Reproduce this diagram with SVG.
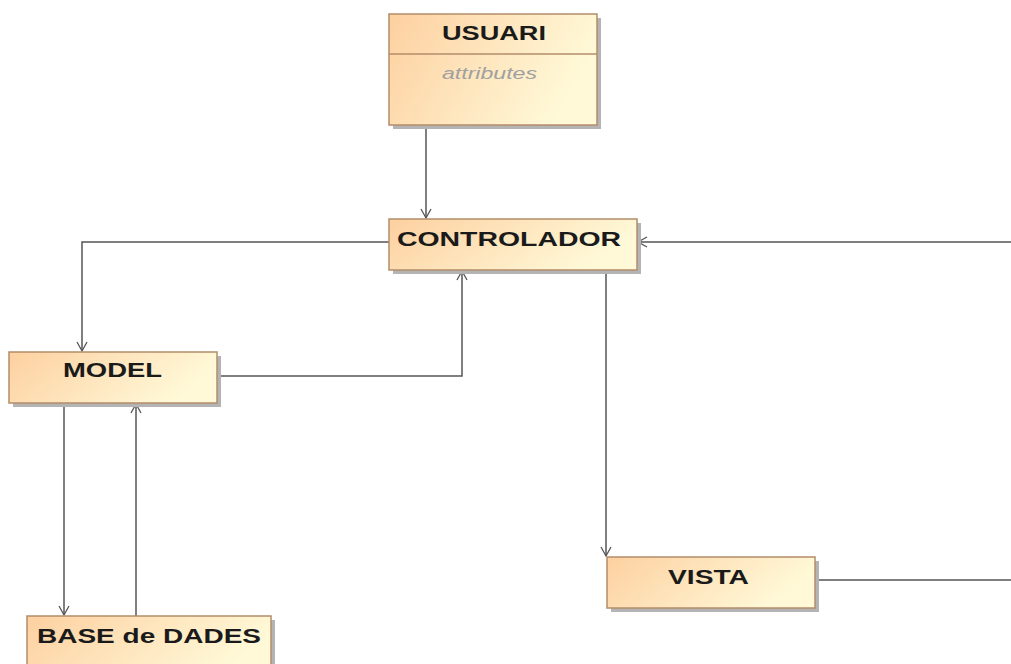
<svg xmlns="http://www.w3.org/2000/svg" width="1011" height="664" viewBox="0 0 1011 664">
  <defs>
    <linearGradient id="fillGrad" x1="0" y1="0" x2="1" y2="0.3">
      <stop offset="0" stop-color="#fdd0a0"/>
      <stop offset="1" stop-color="#fff9d8"/>
    </linearGradient>
    <marker id="openArrow" markerWidth="12" markerHeight="12" refX="10" refY="6" orient="auto" markerUnits="userSpaceOnUse">
      <path d="M1,1 L10,6 L1,11" fill="none" stroke="#555" stroke-width="1.3"/>
    </marker>
  </defs>
  <style>
    .shadow { fill: #b4b4b4; }
    .box { fill: url(#fillGrad); stroke: #b38d6b; stroke-width: 1.5; }
    .title { font-family: "Liberation Sans", Arial, sans-serif; font-weight: bold; font-size: 21px; fill: #1a1a1a; text-anchor: middle; }
    .attr { font-family: "Liberation Sans", Arial, sans-serif; font-style: italic; font-size: 16px; fill: #a0a0a0; text-anchor: middle; }
    .conn { fill: none; stroke: #555; stroke-width: 1.5; }
  </style>
  <rect width="1011" height="664" fill="#ffffff"/>

  <g id="connectors">
    <path class="conn" d="M426,125 L426,218" marker-end="url(#openArrow)"/>
    <path class="conn" d="M389,242 L82,242 L82,351" marker-end="url(#openArrow)"/>
    <path class="conn" d="M217,376 L462,376 L462,271" marker-end="url(#openArrow)"/>
    <path class="conn" d="M64,403 L64,615" marker-end="url(#openArrow)"/>
    <path class="conn" d="M136,616 L136,404" marker-end="url(#openArrow)"/>
    <path class="conn" d="M606,270 L606,556" marker-end="url(#openArrow)"/>
    <path class="conn" d="M815,580 L1011,580"/>
    <path class="conn" d="M1011,242 L638,242" marker-end="url(#openArrow)"/>
  </g>

  <g id="usuari">
    <rect class="shadow" x="393" y="18" width="208" height="111"/>
    <rect class="box" x="389" y="14" width="208" height="111"/>
    <line x1="389" y1="54" x2="597" y2="54" stroke="#b38d6b" stroke-width="1.5"/>
    <text class="title" x="494" y="40" textLength="104" lengthAdjust="spacingAndGlyphs">USUARI</text>
    <text class="attr" x="489.5" y="79" textLength="95" lengthAdjust="spacingAndGlyphs">attributes</text>
  </g>

  <g id="controlador">
    <rect class="shadow" x="393" y="223" width="248" height="51"/>
    <rect class="box" x="389" y="219" width="248" height="51"/>
    <text class="title" x="509" y="246" textLength="224" lengthAdjust="spacingAndGlyphs">CONTROLADOR</text>
  </g>

  <g id="model">
    <rect class="shadow" x="13" y="356" width="208" height="51"/>
    <rect class="box" x="9" y="352" width="208" height="51"/>
    <text class="title" x="112.5" y="377" textLength="99" lengthAdjust="spacingAndGlyphs">MODEL</text>
  </g>

  <g id="base-de-dades">
    <rect class="shadow" x="31" y="620" width="244" height="60"/>
    <rect class="box" x="27" y="616" width="244" height="60"/>
    <text class="title" x="149" y="643" textLength="224" lengthAdjust="spacingAndGlyphs">BASE de DADES</text>
  </g>

  <g id="vista">
    <rect class="shadow" x="611" y="561" width="208" height="51"/>
    <rect class="box" x="607" y="557" width="208" height="51"/>
    <text class="title" x="708.5" y="584" textLength="81" lengthAdjust="spacingAndGlyphs">VISTA</text>
  </g>
</svg>
